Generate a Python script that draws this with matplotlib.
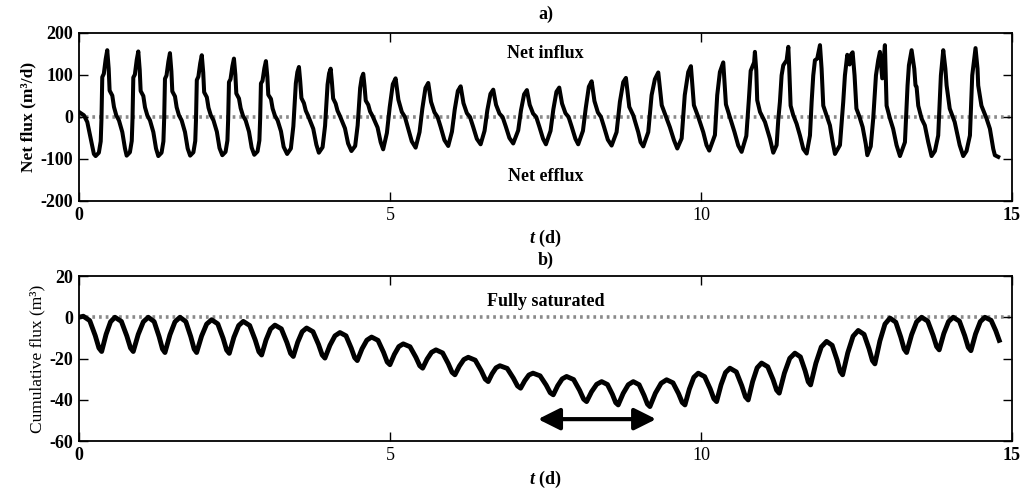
#!/usr/bin/env python3
"""Net and cumulative flux over ~15 days of tidal forcing (panels a and b)."""

import matplotlib

matplotlib.use("Agg")
import matplotlib.pyplot as plt

# ---- panel a: net flux (m3/d), turning points ----
net_t = [
    0.000, 0.080, 0.134, 0.190, 0.240,
    0.268, 0.320, 0.350, 0.362, 0.375, 0.400, 0.430, 0.455, 0.478, 0.493, 0.536, 0.563, 0.600, 0.643, 0.697, 0.740,
    0.767, 0.819, 0.849, 0.861, 0.874, 0.899, 0.929, 0.954, 0.977, 0.992, 1.035, 1.062, 1.099, 1.142, 1.196, 1.239,
    1.276, 1.328, 1.358, 1.370, 1.383, 1.408, 1.438, 1.463, 1.486, 1.501, 1.544, 1.571, 1.608, 1.651, 1.705, 1.748,
    1.788, 1.840, 1.870, 1.882, 1.895, 1.920, 1.950, 1.975, 1.998, 2.013, 2.056, 2.083, 2.120, 2.163, 2.217, 2.260,
    2.305, 2.357, 2.387, 2.399, 2.412, 2.437, 2.467, 2.492, 2.515, 2.530, 2.573, 2.600, 2.637, 2.680, 2.734, 2.777,
    2.819, 2.871, 2.901, 2.913, 2.926, 2.951, 2.981, 3.006, 3.029, 3.044, 3.087, 3.114, 3.151, 3.194, 3.248, 3.291,
    3.347, 3.407, 3.447, 3.487, 3.512, 3.537, 3.557, 3.577, 3.617, 3.647, 3.687, 3.767, 3.817,
    3.857, 3.917, 3.957, 3.997, 4.022, 4.047, 4.067, 4.087, 4.127, 4.157, 4.197, 4.277, 4.327,
    4.381, 4.441, 4.481, 4.521, 4.546, 4.571, 4.591, 4.611, 4.651, 4.681, 4.721, 4.801, 4.851,
    4.891, 4.951, 4.996, 5.046, 5.091, 5.136, 5.191, 5.241, 5.291, 5.351,
    5.413, 5.476, 5.521, 5.571, 5.616, 5.661, 5.716, 5.766, 5.816, 5.876,
    5.937, 5.997, 6.042, 6.092, 6.137, 6.182, 6.237, 6.287, 6.337, 6.397,
    6.458, 6.521, 6.566, 6.616, 6.661, 6.706, 6.761, 6.811, 6.861, 6.921,
    6.982, 7.062, 7.107, 7.157, 7.202, 7.247, 7.302, 7.352, 7.402, 7.462,
    7.508, 7.582, 7.627, 7.677, 7.722, 7.767, 7.822, 7.872, 7.922, 7.982,
    8.027, 8.103, 8.148, 8.198, 8.243, 8.288, 8.343, 8.393, 8.443, 8.503,
    8.564, 8.644, 8.697, 8.751, 8.794, 8.848, 8.912, 8.992, 9.030,
    9.073, 9.153, 9.207, 9.260, 9.314, 9.370, 9.420, 9.500, 9.566,
    9.620, 9.690, 9.740, 9.796, 9.839, 9.887, 9.957, 10.037, 10.090,
    10.134, 10.225, 10.262, 10.305, 10.359, 10.402, 10.460, 10.540, 10.600,
    10.654, 10.730, 10.770, 10.800, 10.840, 10.855, 10.868, 10.890, 10.905, 10.950, 11.030, 11.110,
    11.163, 11.217, 11.244, 11.270, 11.297, 11.324, 11.378, 11.405, 11.420, 11.442, 11.485, 11.538, 11.592, 11.646,
    11.700, 11.753, 11.780, 11.806, 11.833, 11.870, 11.914, 11.940, 11.967, 12.020, 12.074, 12.117,
    12.155, 12.235, 12.288, 12.315, 12.353, 12.390, 12.410, 12.439, 12.470, 12.500, 12.550, 12.600, 12.650,
    12.675, 12.730, 12.770, 12.814, 12.850, 12.878, 12.915, 12.958, 12.985, 13.040, 13.090, 13.145,
    13.200, 13.280, 13.322, 13.344, 13.387, 13.430, 13.450, 13.467, 13.494, 13.548, 13.600, 13.655,
    13.708, 13.762, 13.815, 13.858, 13.896, 13.930, 13.950, 14.000, 14.080, 14.160,
    14.217, 14.270, 14.325, 14.362, 14.415, 14.447, 14.458, 14.510, 14.593, 14.646, 14.700, 14.726, 14.780,
]
net_q = [
    12, 4, -12, -52, -88,
    -93, -85, -58, -5, 95, 103, 138, 159, 115, 63, 51, 24, 4, -8, -36, -75,
    -92, -84, -57, -5, 94, 101, 136, 156, 112, 62, 50, 23, 4, -8, -36, -75,
    -93, -85, -58, -5, 91, 99, 132, 152, 109, 61, 49, 23, 4, -8, -36, -75,
    -92, -84, -57, -5, 88, 96, 128, 147, 106, 59, 47, 22, 4, -8, -35, -74,
    -91, -83, -56, -5, 83, 90, 121, 139, 100, 56, 44, 21, 3, -8, -35, -73,
    -90, -82, -56, -5, 80, 86, 116, 133, 96, 53, 43, 20, 3, -8, -34, -71,
    -88, -75, -22, 80, 107, 119, 86, 45, 33, 15, 2, -28, -66,
    -85, -72, -21, 77, 104, 115, 83, 44, 32, 15, 2, -27, -63,
    -81, -69, -20, 69, 93, 103, 74, 39, 29, 13, 2, -25, -60,
    -77, -38, 23, 78, 92, 41, 12, 0, -26, -58,
    -73, -36, 20, 69, 81, 36, 11, 0, -24, -55,
    -69, -35, 18, 62, 73, 33, 9, 0, -23, -52,
    -65, -33, 16, 55, 65, 29, 8, 0, -22, -50,
    -63, -32, 16, 54, 64, 29, 8, 0, -23, -52,
    -65, -33, 18, 60, 70, 32, 9, 0, -23, -52,
    -65, -33, 21, 72, 85, 38, 11, 0, -24, -54,
    -68, -36, 36, 83, 93, 24, 4, -36, -60,
    -70, -36, 52, 90, 106, 28, 8, -24, -55,
    -75, -51, 52, 107, 121, 28, 0, -36, -67,
    -80, -43, 52, 107, 130, 30, 2, -36, -68,
    -83, -45, 40, 110, 125, 130, 155, 110, 40, 12, -12, -52,
    -85, -67, -6, 36, 99, 123, 135, 167, 115, 27, 4, -16, -44, -76,
    -87, -44, 36, 99, 135, 139, 171, 115, 27, 4, -20, -59,
    -88, -67, 36, 99, 148, 125, 148, 154, 99, 20, 0, -24, -64,
    -91, -70, -4, 99, 135, 155, 92, 171, 27, -4, -28, -67,
    -93, -60, 75, 123, 159, 115, 75, 72, 27, -4, -20, -60,
    -93, -81, -44, 99, 159, 115, 75, 20, -12, -67,
    -93, -81, -44, 99, 164, 115, 75, 27, -4, -28, -76, -91, -95,
]

# ---- panel b: cumulative flux (m3) ----
cum_t = [
    0.000, 0.070, 0.173, 0.262, 0.321,
    0.365, 0.436, 0.508, 0.579, 0.682, 0.770, 0.829,
    0.873, 0.953, 1.035, 1.115, 1.209, 1.289, 1.343,
    1.383, 1.463, 1.544, 1.624, 1.718, 1.798, 1.852,
    1.892, 1.972, 2.053, 2.133, 2.232, 2.318, 2.374,
    2.417, 2.491, 2.568, 2.642, 2.745, 2.834, 2.893,
    2.937, 3.008, 3.080, 3.151, 3.254, 3.343, 3.402,
    3.446, 3.517, 3.589, 3.660, 3.763, 3.852, 3.911,
    3.955, 4.035, 4.116, 4.196, 4.294, 4.377, 4.433,
    4.475, 4.551, 4.629, 4.705, 4.808, 4.897, 4.956,
    5.000, 5.071, 5.143, 5.214, 5.323, 5.417, 5.479,
    5.526, 5.597, 5.669, 5.740, 5.847, 5.938, 5.999,
    6.045, 6.116, 6.188, 6.259, 6.371, 6.468, 6.532,
    6.580, 6.642, 6.706, 6.768, 6.885, 6.984, 7.051,
    7.101, 7.167, 7.234, 7.300, 7.414, 7.512, 7.577,
    7.626, 7.697, 7.769, 7.840, 7.953, 8.049, 8.114,
    8.162, 8.242, 8.324, 8.404, 8.497, 8.577, 8.630,
    8.670, 8.750, 8.832, 8.912, 9.006, 9.086, 9.140,
    9.180, 9.268, 9.360, 9.448, 9.551, 9.640, 9.699,
    9.743, 9.814, 9.886, 9.957, 10.060, 10.149, 10.208,
    10.252, 10.323, 10.395, 10.466, 10.569, 10.657, 10.716,
    10.760, 10.831, 10.904, 10.975, 11.074, 11.160, 11.216,
    11.259, 11.342, 11.428, 11.511, 11.599, 11.675, 11.725,
    11.763, 11.848, 11.935, 12.020, 12.110, 12.188, 12.239,
    12.278, 12.361, 12.446, 12.529, 12.623, 12.703, 12.757,
    12.797, 12.877, 12.959, 13.039, 13.133, 13.213, 13.267,
    13.307, 13.387, 13.468, 13.548, 13.647, 13.732, 13.789,
    13.831, 13.905, 13.981, 14.056, 14.156, 14.241, 14.298,
    14.341, 14.415, 14.492, 14.566, 14.666, 14.740, 14.796,
]
cum_v = [
    0.0, 0.5, -1.6, -8.9, -14.9,
    -16.6, -8.3, -2.2, 0.0, -2.0, -9.1, -14.9,
    -16.6, -8.3, -2.2, 0.0, -2.1, -9.4, -15.4,
    -17.1, -8.5, -2.2, 0.0, -2.1, -9.4, -15.4,
    -17.1, -9.1, -3.3, -1.2, -3.2, -10.2, -15.9,
    -17.5, -9.7, -4.0, -2.0, -4.0, -11.0, -16.7,
    -18.3, -11.0, -5.7, -3.8, -5.6, -12.2, -17.5,
    -19.0, -12.1, -7.0, -5.2, -7.0, -13.2, -18.3,
    -19.8, -13.6, -9.0, -7.4, -9.0, -14.9, -19.6,
    -21.0, -15.3, -11.1, -9.6, -11.2, -17.0, -21.7,
    -23.0, -18.0, -14.2, -12.9, -14.3, -19.4, -23.5,
    -24.7, -20.3, -17.0, -15.8, -17.3, -22.5, -26.7,
    -27.9, -23.7, -20.5, -19.4, -20.8, -25.9, -30.0,
    -31.2, -27.4, -24.5, -23.5, -24.8, -29.5, -33.3,
    -34.4, -30.8, -28.0, -27.1, -28.4, -32.9, -36.6,
    -37.6, -33.2, -29.9, -28.7, -30.2, -35.4, -39.7,
    -40.9, -36.1, -32.5, -31.2, -32.6, -37.4, -41.4,
    -42.5, -36.9, -32.7, -31.2, -32.7, -37.9, -42.1,
    -43.3, -36.8, -32.0, -30.3, -31.8, -37.0, -41.3,
    -42.5, -34.8, -29.1, -27.1, -28.8, -34.7, -39.5,
    -40.9, -32.8, -26.8, -24.7, -26.5, -33.2, -38.6,
    -40.1, -31.2, -24.5, -22.2, -24.0, -30.2, -35.3,
    -36.8, -27.1, -19.9, -17.4, -19.2, -25.9, -31.3,
    -32.8, -22.3, -14.4, -11.7, -13.6, -20.6, -26.3,
    -27.9, -17.2, -9.2, -6.4, -8.3, -15.3, -21.0,
    -22.6, -11.5, -3.3, -0.4, -2.4, -9.6, -15.4,
    -17.1, -8.5, -2.2, 0.0, -1.9, -8.7, -14.2,
    -15.8, -7.9, -2.1, 0.0, -1.9, -8.9, -14.6,
    -16.2, -8.1, -2.1, 0.0, -1.5, -6.5, -11.2,
]

x_ticks = [0, 5, 10, 15]
net_yticks = [-200, -100, 0, 100, 200]
cum_yticks = [-60, -40, -20, 0, 20]

# period of low cumulative storage marked by the arrow (d, m3)
arrow_span = (7.38, 9.28)
arrow_level = -49.4

plt.rcParams["font.family"] = ["Liberation Serif", "DejaVu Serif"]
plt.rcParams["mathtext.fontset"] = "custom"
plt.rcParams["mathtext.it"] = "Liberation Serif:italic:bold"
plt.rcParams["mathtext.rm"] = "Liberation Serif:bold"
plt.rcParams["axes.unicode_minus"] = False


def style_axes(ax, yticks, xlabelpad):
    ax.set_xlim(0, 15)
    ax.set_ylim(yticks[0], yticks[-1])
    ax.set_xticks(x_ticks)
    ax.set_yticks(yticks)
    ax.tick_params(direction="in", length=6.5, width=1.0, top=True, right=True,
                   labelsize=13, pad=4)
    for side in ax.spines.values():
        side.set_linewidth(1.3)
    for lab in ax.get_yticklabels():
        lab.set_fontweight("bold")
    for lab in ax.get_xticklabels():
        lab.set_fontweight("normal" if lab.get_text() in ("5", "10") else "bold")
    # grey dotted reference line at zero
    ax.axhline(0, color="#8a8a8a", lw=2.6, linestyle=(0, (0.75, 1.1)), zorder=1)
    ax.set_xlabel("$t$ (d)", fontsize=13, fontweight="bold", labelpad=xlabelpad)


def main():
    fig = plt.figure(figsize=(10.24, 4.9), dpi=100)
    ax_a = fig.add_axes([0.0771, 0.5898, 0.9111, 0.3429])
    ax_b = fig.add_axes([0.0771, 0.1000, 0.9111, 0.3367])

    ax_a.plot(net_t, net_q, color="black", lw=2.9, solid_joinstyle="round", zorder=3)
    style_axes(ax_a, net_yticks, 3)
    ax_a.set_ylabel("Net flux (m³/d)", fontsize=12.5, fontweight="bold", labelpad=3)
    ax_a.set_title("a)", fontsize=13, fontweight="bold", pad=10)
    ax_a.text(7.5, 152, "Net influx", ha="center", va="center", fontsize=13, fontweight="bold")
    ax_a.text(7.5, -141, "Net efflux", ha="center", va="center", fontsize=13, fontweight="bold")

    ax_b.plot(cum_t, cum_v, color="black", lw=3.5, solid_joinstyle="round", zorder=3)
    style_axes(ax_b, cum_yticks, 4)
    ax_b.set_ylabel("Cumulative flux (m³)", fontsize=12.5, labelpad=3)
    ax_b.set_title("b)", fontsize=13, fontweight="bold", pad=8)
    ax_b.text(7.5, 7.7, "Fully saturated", ha="center", va="center", fontsize=13, fontweight="bold")
    ax_b.annotate(
        "",
        xy=(arrow_span[1], arrow_level),
        xytext=(arrow_span[0], arrow_level),
        arrowprops=dict(arrowstyle="<|-|>,head_length=0.6,head_width=0.3",
                        lw=3, color="black", mutation_scale=22, shrinkA=0, shrinkB=0),
    )

    fig.savefig("out.png", dpi=100)


if __name__ == "__main__":
    main()
